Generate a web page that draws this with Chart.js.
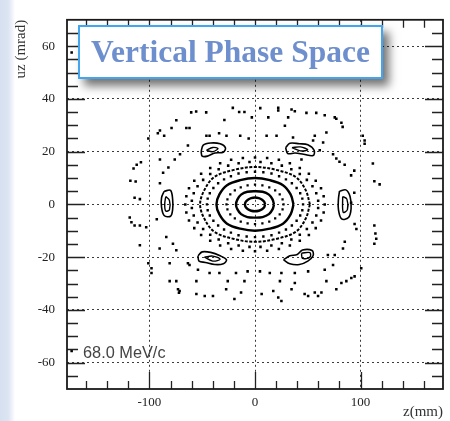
<!DOCTYPE html>
<html>
<head>
<meta charset="utf-8">
<script src="https://cdn.jsdelivr.net/npm/chart.js@4.4.1/dist/chart.umd.min.js"></script>
<style>
  html, body { margin:0; padding:0; }
  body { width:450px; height:421px; overflow:hidden;
         background: linear-gradient(to right, #d6e0f0 0px, #dbe4f2 8px, #eef2f9 12px, #ffffff 15px); }
  #wrap { position:relative; width:450px; height:421px; }
  #c { position:absolute; left:0; top:0; }
  #title { position:absolute; left:78px; top:25px; width:301px; height:50px;
           border:2px solid #43a5ee; background:#fff;
           box-shadow: 6px 7px 9px rgba(0,0,0,0.55);
           font: bold 31.5px "Liberation Serif", "Times New Roman", serif; color:#6e8fcd;
           text-align:center; line-height:50px; white-space:nowrap; }
  #mom { position:absolute; left:83px; top:344px; font: 17px "Liberation Sans", Arial, sans-serif;
         line-height:17px; color:#444; transform: scaleX(0.96); transform-origin: left center; white-space:nowrap; }
</style>
</head>
<body>
<div id="wrap">
  <canvas id="c" width="450" height="421"></canvas>
  <div id="title">Vertical Phase Space</div>
  <div id="mom">68.0 MeV/c</div>
</div>
<script>
// ---------- axis ticks / labels ----------
const X_TICKS = [-100, 0, 100];
const X_LABELS = ['-100', '0', '100'];
const Y_TICKS = [-60, -40, -20, 0, 20, 40, 60];
const Y_LABELS = ['-60', '-40', '-20', '0', '20', '40', '60'];
const X_MINOR = [-160,-140,-120,-100,-80,-60,-40,-20,0,20,40,60,80,100,120,140,160];
const Y_MINOR = [-65,-60,-55,-50,-45,-40,-35,-30,-25,-20,-15,-10,-5,0,5,10,15,20,25,30,35,40,45,50,55,60,65];

// ---------- closed orbits (z [mm], uz [mrad]) ----------
const ring1 = [[9.5,0],[8.8,1.0],[6.7,1.8],[3.6,2.4],[0,2.6],[-3.6,2.4],[-6.7,1.8],[-8.8,1.0],[-9.5,0],[-8.8,-1.0],[-6.7,-1.8],[-3.6,-2.4],[0,-2.6],[3.6,-2.4],[6.7,-1.8],[8.8,-1.0],[9.5,0]];
const ring2 = [[18,0],[16.6,1.9],[13.2,3.7],[7.2,4.8],[0,5],[-7.2,4.8],[-13.2,3.7],[-16.6,1.9],[-18,0],[-16.6,-1.9],[-13.2,-3.7],[-7.2,-4.8],[0,-5],[7.2,-4.8],[13.2,-3.7],[16.6,-1.9],[18,0]];
const ring3 = [[27,0],[26.1,1.9],[23.4,3.8],[19.1,5.3],[13.5,6.5],[7,7.2],[0,7.5],[-7,7.2],[-13.5,6.5],[-19.1,5.3],[-23.4,3.8],[-26.1,1.9],[-27,0],[-26.1,-1.9],[-23.4,-3.8],[-19.1,-5.3],[-13.5,-6.5],[-7,-7.2],[0,-7.5],[7,-7.2],[13.5,-6.5],[19.1,-5.3],[23.4,-3.8],[26.1,-1.9]];
const ring4 = [[36.5,0],[33.7,3.8],[26.5,7.3],[14,9.2],[0,10],[-14,9.2],[-26.5,7.3],[-33.7,3.8],[-36.5,0],[-33.7,-3.8],[-26.5,-7.3],[-14,-9.2],[0,-10],[14,-9.2],[26.5,-7.3],[33.7,-3.8],[36.5,0]];
const ring5 = [[45.5,0],[44.8,2.2],[42.8,4.2],[39.4,6.2],[34.9,8.0],[29.3,9.5],[22.8,10.7],[15.6,11.7],[7.9,12.2],[0,12.4],[-7.9,12.2],[-15.6,11.7],[-22.8,10.7],[-29.3,9.5],[-34.9,8.0],[-39.4,6.2],[-42.8,4.2],[-44.8,2.2],[-45.5,0],[-44.8,-2.2],[-42.8,-4.2],[-39.4,-6.2],[-34.9,-8.0],[-29.3,-9.5],[-22.8,-10.7],[-15.6,-11.7],[-7.9,-12.2],[0,-12.4],[7.9,-12.2],[15.6,-11.7],[22.8,-10.7],[29.3,-9.5],[34.9,-8.0],[39.4,-6.2],[42.8,-4.2],[44.8,-2.2]];
const ring6 = [[52,0],[48,5.4],[38.5,10.4],[19.9,13.1],[0,14.2],[-19.9,13.1],[-38.5,10.4],[-48,5.4],[-52,0],[-48,-5.4],[-38.5,-10.4],[-19.9,-13.1],[0,-14.2],[19.9,-13.1],[38.5,-10.4],[48,-5.4],[52,0]];
const ring7 = [[59.8,1.4],[58,4.2],[54.4,6.9],[49.1,9.3],[42.4,11.5],[34.4,13.3],[25.4,14.7],[15.5,15.6],[5.2,16.1],[-5.2,16.1],[-15.5,15.6],[-25.4,14.7],[-34.4,13.3],[-42.4,11.5],[-49.1,9.3],[-54.4,6.9],[-58,4.2],[-59.8,1.4],[-59.8,-1.4],[-58,-4.2],[-54.4,-6.9],[-49.1,-9.3],[-42.4,-11.5],[-34.4,-13.3],[-25.4,-14.7],[-15.5,-15.6],[-5.2,-16.1],[5.2,-16.1],[15.5,-15.6],[25.4,-14.7],[34.4,-13.3],[42.4,-11.5],[49.1,-9.3],[54.4,-6.9],[58,-4.2],[59.8,-1.4]];
const ring8 = [[66,0],[65,3.1],[62.5,6.1],[57.5,9],[51,11.6],[42.4,13.8],[33,15.6],[22.6,16.9],[11.5,17.6],[0,17.8],[-11.5,17.6],[-22.6,16.9],[-33,15.6],[-42.4,13.8],[-51,11.6],[-57.5,9],[-62.5,6.1],[-65,3.1],[-66,0],[-65,-3.1],[-62.5,-6.1],[-57.5,-9],[-51,-11.6],[-42.4,-13.8],[-33,-15.6],[-22.6,-16.9],[-11.5,-17.6],[0,-17.8],[11.5,-17.6],[22.6,-16.9],[33,-15.6],[42.4,-13.8],[51,-11.6],[57.5,-9],[62.5,-6.1],[65,-3.1]];

// ---------- resonance islands ----------
const islandTL = [[-51,20],[-49,22.5],[-42,23.3],[-33,23],[-28,21.5],[-30,19.8],[-38,19.5],[-45,18.3],[-50,18.3],[-51,20]];
const islandTLin = [[-46,20.5],[-40,21.6],[-35,21.2],[-40,20],[-46,20.5]];
const islandTR = [[29,21.5],[33,23.2],[42,23],[50,22.6],[56,20.5],[55,18.5],[46,19],[38,19.5],[31,19.3],[29,21.5]];
const islandTRin = [[35,21.5],[43,21.8],[50,20.7],[43,20.3],[35,21.5]];
const islandBL = [[-54,-19.5],[-50,-18],[-42,-18.2],[-33,-19.5],[-27,-21],[-30,-22.5],[-38,-22.8],[-47,-22],[-53,-21.5],[-54,-19.5]];
const islandBLin = [[-48,-20],[-40,-19.6],[-33,-20.8],[-40,-21.5],[-48,-20]];
const islandBR = [[27,-21],[33,-22.5],[42,-22.8],[50,-21.5],[55,-19.5],[54,-17.5],[45,-17.3],[40,-19],[33,-19.5],[27,-21]];
const islandBRin = [[44,-18.5],[52,-18.3],[52,-20],[45,-20.5],[44,-18.5]];
const islandL = [[-86,5],[-80,5.3],[-78,2],[-78,-2],[-80,-4.5],[-86,-4.2],[-88.5,-1],[-88.5,2.5],[-86,5]];
const islandLin = [[-84.5,3],[-81,1.5],[-81,-2],[-84.5,-2.5],[-85.5,0],[-84.5,3]];
const islandR = [[80,5],[86,5.5],[90,3],[91,-1.5],[88.5,-5],[82,-5.5],[79,-2],[79,2],[80,5]];
const islandRin = [[83,3],[87,2],[87.5,-2],[83.5,-3],[83,3]];

// ---------- chaotic region ----------
const chaos = [
 [-60.4,34.9],[-55.7,35.2],[-46.2,34.9],[-74.5,31.9],[-79,29],[-90,28],[-92,27],[-86,26],[-101,25],[-65,29],[-62,29],[-46,26],[-43,26],[-29,32],[-21,36.6],[-15,35],[-10,35],[-34,27],[-27,26],[-14,26],[-6,25],[-63.5,22.3],[-71,19],[-90,17],[-76,17],[-82,14],[-87,12],[-90,8],[-112,15],[-115,13.6],[-108,16],[-118,9],[-113,8.7],[-109,2],[-114,2.5],[5,36.5],[-3,33],
 [22,36.6],[22,35.6],[34.6,36],[37.7,35.3],[48.7,34.7],[58,34.7],[66,33.8],[75.5,33],[77,32.5],[81.8,31],[83,29.4],[12.6,33],[31.4,33],[28.3,29.8],[11,26],[20.4,26],[36,25.4],[56.6,26],[67.6,27.3],[55,24.2],[61.3,20.5],[64.5,23.5],[73.9,19],[77,17.4],[80,16.2],[84.9,15],[91,11],[94,12.8],[102,26],[103.8,24.2],[103.8,23],[111.6,15.5],[113,8.8],[118,7.6],[94,4.4],[91,0.6],[44,17],
 [-118.6,-5],[-117,-6.8],[-114,-8],[-109,-8],[-103,-8.7],[-109,-15.5],[-93,-5.6],[-90.3,-16.7],[-84,-12.4],[-77.7,-14.9],[-74.5,-17.4],[-101,-22.3],[-98,-24.2],[-98,-26],[-80.8,-22.3],[-63.5,-22.3],[-62,-23],[-54,-24.8],[-43,-26],[-33.7,-26],[-18,-26],[-7,-25.4],[-80.8,-29.1],[-74.5,-29.1],[-72.9,-32.2],[-71.4,-32.8],[-72,-33.5],[-55.5,-29.1],[-55.5,-34],[-47.6,-34.7],[-39.8,-34.7],[-27.3,-32.2],[-19.5,-35.9],[-25.8,-29.1],[-13.2,-33.4],[-10,-29.1],
 [94.3,-7.4],[96,-9.3],[113,-8],[114.8,-13],[113,-14.9],[114,-11],[85,-14.2],[83.3,-16.7],[75.5,-19.2],[73.9,-23],[94.3,-27.3],[91.2,-27.9],[86.5,-29.1],[81.8,-29.8],[77,-32.2],[67.6,-29.1],[62.9,-33.4],[56.6,-33.4],[59.7,-34.7],[50.3,-34.7],[47,-34],[37.7,-29.8],[34.6,-32.2],[23.6,-29.1],[17.3,-32.8],[22,-35.3],[25,-36.6],[4.7,-25.4],[14,-26],[25,-26],[37.7,-26],[50.3,-25.4],[6.3,-34],[66,-24.8],[100.6,-24.2],[69,-19.2]
];
const marks = [[-173.6,57.6],[-173.6,-55.6]];

// ---------- chart ----------
const dotSet = (data, r) => ({ data, showLine:false, pointStyle:'rect', pointRadius:r, pointBackgroundColor:'#000', pointBorderWidth:0 });
const lineSet = (data, w, dash) => ({ data, showLine:true, pointRadius:0, borderColor:'#000', borderWidth:w, borderDash:dash||[], tension:0.35, fill:false });

const frameTicks = {
  id:'frameTicks',
  afterDatasetsDraw(chart) {
    const {ctx, chartArea:{left,right,top,bottom}, scales:{x,y}} = chart;
    ctx.save();
    ctx.strokeStyle = '#222';
    ctx.lineWidth = 1.3;
    ctx.beginPath();
    X_MINOR.forEach(v => {
      const px = Math.round(x.getPixelForValue(v)) + 0.5;
      const len = X_TICKS.includes(v) ? 17 : 8;
      ctx.moveTo(px, bottom); ctx.lineTo(px, bottom - len);
      ctx.moveTo(px, top); ctx.lineTo(px, top + 8);
    });
    Y_MINOR.forEach(v => {
      const py = Math.round(y.getPixelForValue(v)) + 0.5;
      const len = Y_TICKS.includes(v) ? 18 : 11;
      ctx.moveTo(left, py); ctx.lineTo(left + len, py);
      ctx.moveTo(right, py); ctx.lineTo(right - len, py);
    });
    ctx.stroke();
    ctx.lineWidth = 1.8;
    ctx.strokeStyle = '#1a1a1a';
    ctx.strokeRect(left, top, right - left, bottom - top);
    ctx.restore();
  }
};

new Chart(document.getElementById('c'), {
  type:'scatter',
  data:{ datasets:[
    dotSet(chaos, 1.8),
    dotSet(ring3, 1.6), dotSet(ring5, 1.7), dotSet(ring7, 1.8), dotSet(ring8, 1.8),
    lineSet(ring1, 2.4), lineSet(ring2, 2.4), lineSet(ring4, 2.4), lineSet(ring6, 2.0, [3,1.5]),
    lineSet(islandTL, 1.6), lineSet(islandTLin, 1.4), lineSet(islandTR, 1.6), lineSet(islandTRin, 1.4),
    lineSet(islandBL, 1.6), lineSet(islandBLin, 1.4), lineSet(islandBR, 1.6), lineSet(islandBRin, 1.4),
    lineSet(islandL, 1.6), lineSet(islandLin, 1.4), lineSet(islandR, 1.6), lineSet(islandRin, 1.4),
    dotSet(marks, 1.8)
  ]},
  options:{
    responsive:false, animation:false, devicePixelRatio:1,
    layout:{ padding:{ left:0, top:13, right:7, bottom:0 } },
    plugins:{ legend:{display:false}, tooltip:{enabled:false} },
    scales:{
      x:{ type:'linear', position:'bottom', min:-178, max:178,
          afterFit: s => { s.height = 32; },
          afterBuildTicks: s => { s.ticks = X_TICKS.map(v => ({value:v})); },
          ticks:{ callback:(v,i) => X_LABELS[i], autoSkip:false, maxRotation:0,
                  font:{family:'Liberation Serif', size:13}, color:'#222', padding:6 },
          grid:{ drawTicks:false, color:'#3a3a3a', lineWidth:1 },
          border:{ display:false, dash:[2,3] },
          title:{ display:true, text:'z(mm)', align:'end', color:'#333',
                  font:{family:'Liberation Serif', size:15}, padding:{top:0,bottom:0} } },
      y:{ type:'linear', position:'left', min:-70, max:70,
          afterFit: s => { s.width = 67; },
          afterBuildTicks: s => { s.ticks = Y_TICKS.map(v => ({value:v})); },
          ticks:{ callback:(v,i) => Y_LABELS[i], autoSkip:false,
                  font:{family:'Liberation Serif', size:13}, color:'#222', padding:12 },
          grid:{ drawTicks:false, color:'#3a3a3a', lineWidth:1 },
          border:{ display:false, dash:[2,3] },
          title:{ display:true, text:'uz (mrad)', align:'end', color:'#333',
                  font:{family:'Liberation Serif', size:15}, padding:{top:12,bottom:0} } }
    }
  },
  plugins:[frameTicks]
});
</script>
</body>
</html>
